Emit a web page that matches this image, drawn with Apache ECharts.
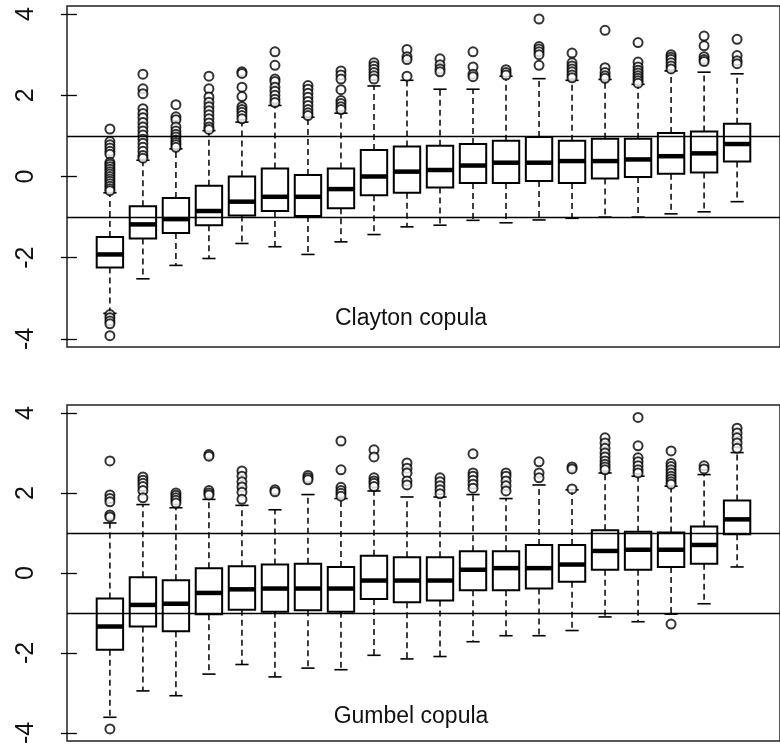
<!DOCTYPE html>
<html>
<head>
<meta charset="utf-8">
<script src="https://cdn.jsdelivr.net/npm/echarts@6/dist/echarts.min.js"></script>
<style>
body{margin:0;background:#fff;}
#chartBox{width:780px;height:747px;}
</style>
</head>
<body>
<div id="chartBox"></div>
<script>
// y axis ticks (same for both panels)
var yTicks = [-4, -2, 0, 2, 4];

// Clayton copula: whisker low, Q1, median, Q3, whisker high
var claytonLow  = [-3.37,-2.52,-2.19,-2.02,-1.65,-1.73,-1.92,-1.61,-1.43,-1.24,-1.20,-1.08,-1.14,-1.07,-1.03,-1.00,-1.00,-0.92,-0.87,-0.62];
var claytonQ1   = [-2.24,-1.53,-1.39,-1.20,-0.96,-0.85,-0.97,-0.78,-0.46,-0.40,-0.27,-0.16,-0.16,-0.11,-0.16,-0.05,-0.01,0.07,0.10,0.37];
var claytonMed  = [-1.92,-1.18,-1.05,-0.85,-0.62,-0.50,-0.50,-0.31,0.00,0.12,0.16,0.27,0.34,0.34,0.38,0.38,0.42,0.50,0.57,0.80];
var claytonQ3   = [-1.49,-0.73,-0.53,-0.23,0.00,0.20,0.04,0.20,0.65,0.74,0.76,0.80,0.88,0.97,0.88,0.93,0.93,1.07,1.11,1.30];
var claytonHigh = [-0.40,0.40,0.68,1.13,1.34,1.75,1.46,1.56,2.23,2.37,2.15,2.15,2.47,2.41,2.37,2.39,2.27,2.60,2.57,2.53];
var claytonOut = [
  [1.17,0.86,0.78,0.70,0.62,0.55,0.35,0.30,0.24,0.18,0.12,0.06,0.00,-0.06,-0.12,-0.18,-0.24,-0.30,-0.35,-3.40,-3.48,-3.56,-3.63,-3.92],
  [2.52,2.16,2.04,1.67,1.55,1.45,1.33,1.22,1.12,1.02,0.92,0.82,0.72,0.62,0.52,0.45],
  [1.77,1.47,1.40,1.22,1.12,1.04,0.97,0.90,0.84,0.78,0.72],
  [2.47,2.16,1.96,1.83,1.72,1.62,1.52,1.42,1.32,1.22,1.16],
  [2.58,2.54,2.20,1.97,1.72,1.65,1.58,1.50,1.42],
  [3.07,2.74,2.40,2.34,2.20,2.10,2.00,1.90,1.82],
  [2.24,2.15,2.05,1.95,1.85,1.75,1.65,1.57,1.50],
  [2.60,2.50,2.40,2.14,1.87,1.80,1.72,1.65],
  [2.80,2.72,2.64,2.56,2.48,2.40],
  [3.13,2.95,2.88,2.47],
  [2.90,2.75,2.65,2.58],
  [3.07,2.70,2.52,2.46],
  [2.63,2.56,2.50],
  [3.88,3.20,3.14,3.07,3.00,2.74],
  [3.04,2.80,2.72,2.65,2.58,2.50,2.43],
  [3.60,2.68,2.56,2.48,2.42],
  [3.30,2.82,2.70,2.62,2.55,2.48,2.42,2.36,2.30],
  [3.00,2.94,2.88,2.80,2.72,2.65],
  [3.46,3.22,2.95,2.88,2.83],
  [3.38,2.98,2.85,2.78]
];

// Gumbel copula
var gumbelLow  = [-3.61,-2.95,-3.07,-2.53,-2.29,-2.60,-2.38,-2.42,-2.06,-2.15,-2.09,-1.72,-1.57,-1.57,-1.44,-1.10,-1.22,-1.03,-0.77,0.15];
var gumbelQ1   = [-1.92,-1.34,-1.46,-1.03,-0.92,-0.97,-0.93,-0.97,-0.65,-0.73,-0.69,-0.43,-0.43,-0.39,-0.22,0.08,0.08,0.15,0.23,0.97];
var gumbelMed  = [-1.34,-0.80,-0.77,-0.50,-0.41,-0.39,-0.39,-0.39,-0.19,-0.19,-0.19,0.08,0.12,0.12,0.21,0.55,0.58,0.58,0.70,1.34];
var gumbelQ3   = [-0.64,-0.11,-0.18,0.12,0.17,0.21,0.23,0.15,0.43,0.39,0.39,0.54,0.54,0.70,0.70,1.07,1.03,1.01,1.16,1.81];
var gumbelHigh = [1.25,1.71,1.63,1.84,1.69,1.58,1.96,1.86,2.05,1.90,1.90,1.96,1.86,2.20,2.08,2.50,2.42,2.17,2.46,3.01];
var gumbelOut = [
  [2.80,1.95,1.86,1.78,1.45,1.40,-3.90],
  [2.40,2.32,2.24,2.16,2.06,1.88],
  [2.00,1.94,1.88,1.82,1.75],
  [2.96,2.92,2.06,2.00,1.95],
  [2.55,2.42,2.28,2.15,2.02,1.84],
  [2.08,2.03],
  [2.44,2.38,2.33],
  [3.30,2.58,2.14,2.06,1.99,1.92],
  [3.08,2.90,2.38,2.30,2.24,2.16],
  [2.75,2.62,2.50,2.30,2.20],
  [2.38,2.28,2.18,2.08,1.98],
  [2.98,2.50,2.42,2.32,2.22,2.12],
  [2.50,2.42,2.30,2.18,2.05],
  [2.78,2.50,2.38],
  [2.65,2.60,2.10],
  [3.38,3.25,3.12,3.00,2.90,2.80,2.72,2.65,2.58],
  [3.89,3.18,2.88,2.78,2.68,2.58,2.50],
  [3.05,2.74,2.66,2.58,2.50,2.42,2.35,2.28,2.22,-1.28],
  [2.68,2.60],
  [3.62,3.50,3.38,3.25,3.12]
];

var refLines = [1, -1];

function boxData(low, q1, med, q3, high) {
  return med.map(function (m, i) {
    return [i + 1, low[i], q1[i], m, q3[i], high[i]];
  });
}
function outData(out) {
  var res = [];
  out.forEach(function (arr, i) {
    arr.forEach(function (v) { res.push([i + 1, v]); });
  });
  return res;
}

// R style box: open box, thick median, dashed whiskers, staples
function renderBox(params, api) {
  var x = api.value(0);
  var low = api.coord([x, api.value(1)]);
  var q1 = api.coord([x, api.value(2)]);
  var med = api.coord([x, api.value(3)]);
  var q3 = api.coord([x, api.value(4)]);
  var high = api.coord([x, api.value(5)]);
  var w = api.size([0.8, 0])[0];
  var cx = med[0];
  var half = w / 2, st = w / 4;
  var dash = {stroke: '#000', lineWidth: 1.5, lineDash: [6, 4], fill: null};
  var solid = {stroke: '#000', lineWidth: 1.6, fill: null};
  return {
    type: 'group',
    children: [
      {type: 'line', shape: {x1: cx, y1: q3[1], x2: cx, y2: high[1]}, style: dash},
      {type: 'line', shape: {x1: cx, y1: q1[1], x2: cx, y2: low[1]}, style: dash},
      {type: 'line', shape: {x1: cx - st, y1: high[1], x2: cx + st, y2: high[1]}, style: solid},
      {type: 'line', shape: {x1: cx - st, y1: low[1], x2: cx + st, y2: low[1]}, style: solid},
      {type: 'rect', shape: {x: cx - half, y: q3[1], width: w, height: q1[1] - q3[1]},
        style: {stroke: '#000', lineWidth: 2, fill: null}},
      {type: 'line', shape: {x1: cx - half, y1: med[1], x2: cx + half, y2: med[1]},
        style: {stroke: '#000', lineWidth: 4.5}}
    ]
  };
}

function makeGrid(top, height) {
  return {left: 67, right: -12, top: top, height: height, show: true,
    borderColor: '#222', borderWidth: 1.5, backgroundColor: 'transparent'};
}
function makeX(idx) {
  return {gridIndex: idx, type: 'value', min: -0.3, max: 21.3, show: false};
}
function makeY(idx) {
  return {
    gridIndex: idx, type: 'value', min: -4.2, max: 4.2,
    axisLine: {show: false},
    splitLine: {show: false},
    axisTick: {show: true, length: 16, customValues: yTicks, lineStyle: {color: '#000', width: 1.3}},
    axisLabel: {customValues: yTicks, rotate: 90, margin: 28, fontSize: 25, color: '#111',
      fontFamily: 'Liberation Sans'}
  };
}
var markLines = {
  silent: true,
  symbol: ['none', 'none'],
  label: {show: false},
  lineStyle: {color: '#000', width: 1.3, type: 'solid'},
  data: refLines.map(function (v) { return {yAxis: v}; })
};

var chart = echarts.init(document.getElementById('chartBox'));
chart.setOption({
  animation: false,
  backgroundColor: '#fff',
  grid: [makeGrid(6, 341), makeGrid(405, 340)],
  xAxis: [makeX(0), makeX(1)],
  yAxis: [makeY(0), makeY(1)],
  graphic: [
    {type: 'text', x: 411, y: 319, style: {text: 'Clayton copula', font: '23px "Liberation Sans"',
      fill: '#111', align: 'center', verticalAlign: 'middle'}},
    {type: 'text', x: 411, y: 717, style: {text: 'Gumbel copula', font: '23px "Liberation Sans"',
      fill: '#111', align: 'center', verticalAlign: 'middle'}}
  ],
  series: [
    {type: 'custom', xAxisIndex: 0, yAxisIndex: 0, renderItem: renderBox,
      data: boxData(claytonLow, claytonQ1, claytonMed, claytonQ3, claytonHigh), markLine: markLines},
    {type: 'scatter', xAxisIndex: 0, yAxisIndex: 0, symbol: 'emptyCircle', symbolSize: 9,
      itemStyle: {color: '#000', borderColor: '#000', borderWidth: 1.1}, data: outData(claytonOut)},
    {type: 'custom', xAxisIndex: 1, yAxisIndex: 1, renderItem: renderBox,
      data: boxData(gumbelLow, gumbelQ1, gumbelMed, gumbelQ3, gumbelHigh), markLine: markLines},
    {type: 'scatter', xAxisIndex: 1, yAxisIndex: 1, symbol: 'emptyCircle', symbolSize: 9,
      itemStyle: {color: '#000', borderColor: '#000', borderWidth: 1.1}, data: outData(gumbelOut)}
  ]
});
</script>
</body>
</html>
